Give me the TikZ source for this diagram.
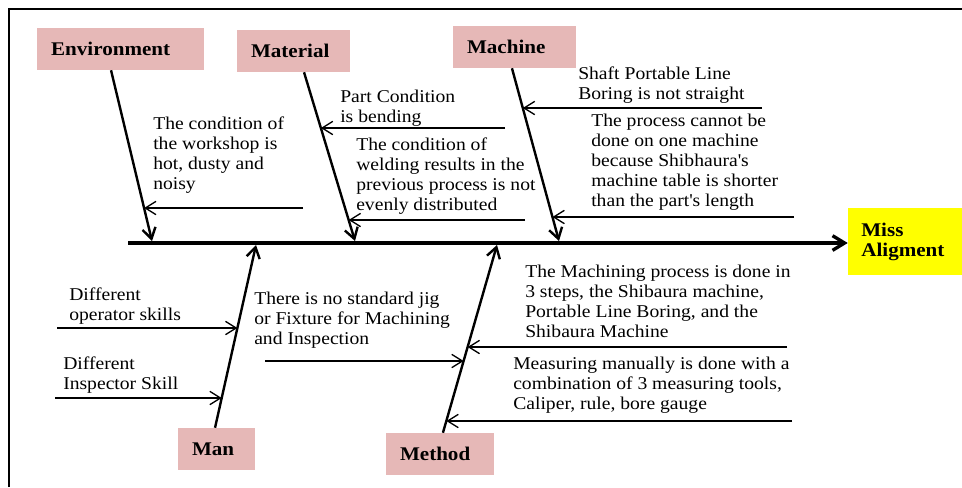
\documentclass[tikz,border=0pt]{standalone}
\usepackage{fontspec}
\setmainfont{Liberation Serif}[FakeStretch=1.09]
\usetikzlibrary{arrows.meta,calc}
\definecolor{rose}{RGB}{230,184,183}
\definecolor{jaune}{RGB}{255,255,0}
\tikzset{
  categorie/.style={fill=rose, align=left, font=\fontsize{14.5}{15}\selectfont\bfseries,
    inner xsep=10.5pt, inner ysep=0pt, minimum height=31.5pt, text width=#1},
  categorie/.default=60pt,
  effet/.style={fill=jaune, align=left, font=\fontsize{14.5}{15}\selectfont\bfseries,
    inner xsep=10pt, minimum height=50.25pt, text width=65.5pt},
  cause/.style={align=left, anchor=north west, inner sep=0pt, font=\fontsize{13.5}{15}\selectfont},
  epine/.style={-{Straight Barb[length=9pt,width=11pt]}, line width=2.5pt},
  arete/.style={-{Straight Barb[length=8pt,width=10pt]}, line width=1.8pt},
  fleche/.style={-{Straight Barb[length=8pt,width=10pt]}, line width=1pt},
  cadre/.style={line width=1.5pt},
}

\begin{document}
\begin{tikzpicture}[x=0.75pt, y=-0.75pt]
    \useasboundingbox (0,0) rectangle (962,487);
    % Cadre
    \draw[cadre] (9,487) -- (9,9) -- (962,9);
    % Catégories
    \node[categorie=104pt]   (env) at (120.5,49) {Environment};
    \node[categorie=63.75pt] (mat) at (293.5,51) {Material};
    \node[categorie=71.25pt] (mac) at (514.5,47) {Machine};
    \node[categorie=36.75pt] (man) at (216.5,449) {Man};
    \node[categorie=60pt]    (met) at (440,454) {Method};
    % Effet
    \node[effet] (effet) at (905,241.5) {Miss\\ Aligment};
    % Epine centrale
    \coordinate (queue) at (128,243);
    \draw[epine] (queue) -- (queue -| effet.west);
    % Arêtes
    \coordinate (envH) at ([xshift=-7.1pt]env.south);
    \coordinate (matH) at ([xshift=7.9pt]mat.south);
    \coordinate (macH) at ([xshift=-1.9pt]mac.south);
    \coordinate (manM) at ([xshift=-1.1pt]man.north);
    \coordinate (metM) at ([xshift=2.2pt]met.north);
    \coordinate (envB) at (152,241);
    \coordinate (matB) at (355,241);
    \coordinate (macB) at (559,241);
    \coordinate (manS) at (256,245);
    \coordinate (metS) at (497,245);
    \draw[arete] (envH) -- (envB);
    \draw[arete] (matH) -- (matB);
    \draw[arete] (macH) -- (macB);
    \draw[arete] (manM) -- (manS);
    \draw[arete] (metM) -- (metS);
    % Points d'arrivée sur les arêtes
    \coordinate (p1) at ($(envH)!0.807!(envB)$);
    \coordinate (p2) at ($(matH)!0.331!(matB)$);
    \coordinate (p3) at ($(matH)!0.876!(matB)$);
    \coordinate (p4) at ($(macH)!0.231!(macB)$);
    \coordinate (p5) at ($(macH)!0.861!(macB)$);
    \coordinate (p6) at ($(manM)!0.546!(manS)$);
    \coordinate (p7) at ($(manM)!0.164!(manS)$);
    \coordinate (p8) at ($(metM)!0.383!(metS)$);
    \coordinate (p9) at ($(metM)!0.457!(metS)$);
    \coordinate (p10) at ($(metM)!0.064!(metS)$);
    % Départs des flèches
    \coordinate (d1) at (303,208);
    \coordinate (d2) at (505,128);
    \coordinate (d3) at (525,220);
    \coordinate (d4) at (762,108);
    \coordinate (d5) at (794,217);
    \coordinate (d6) at (57,328);
    \coordinate (d7) at (55,398);
    \coordinate (d8) at (265,361);
    \coordinate (d9) at (787,347);
    \coordinate (d10) at (792,421);
    \foreach \i in {1,...,10}
      \draw[fleche] (d\i) -- (d\i -| p\i);
    % Causes
    \node[cause] (tenv)  at (153,117) {The condition of\\ the workshop is\\ hot, dusty and\\ noisy};
    \node[cause] (tmat1) at (340,90)  {Part Condition\\ is bending};
    \node[cause] (tmat2) at (356,138) {The condition of\\ welding results in the\\ previous process is not\\ evenly distributed};
    \node[cause] (tmac1) at (578,67)  {Shaft Portable Line\\ Boring is not straight};
    \node[cause] (tmac2) at (591,114) {The process cannot be\\ done on one machine\\ because Shibhaura\textquotesingle s\\ machine table is shorter\\ than the part\textquotesingle s length};
    \node[cause] (tman1) at (69,288)  {Different\\ operator skills};
    \node[cause] (tman2) at (63,357)  {Different\\ Inspector Skill};
    \node[cause] (tjig)  at (254,292) {There is no standard jig\\ or Fixture for Machining\\ and Inspection};
    \node[cause] (tmet1) at (525,265) {The Machining process is done in\\ 3 steps, the Shibaura machine,\\ Portable Line Boring, and the\\ Shibaura Machine};
    \node[cause] (tmet2) at (513,357) {Measuring manually is done with a\\ combination of 3 measuring tools,\\ Caliper, rule, bore gauge};
\end{tikzpicture}
\end{document}
